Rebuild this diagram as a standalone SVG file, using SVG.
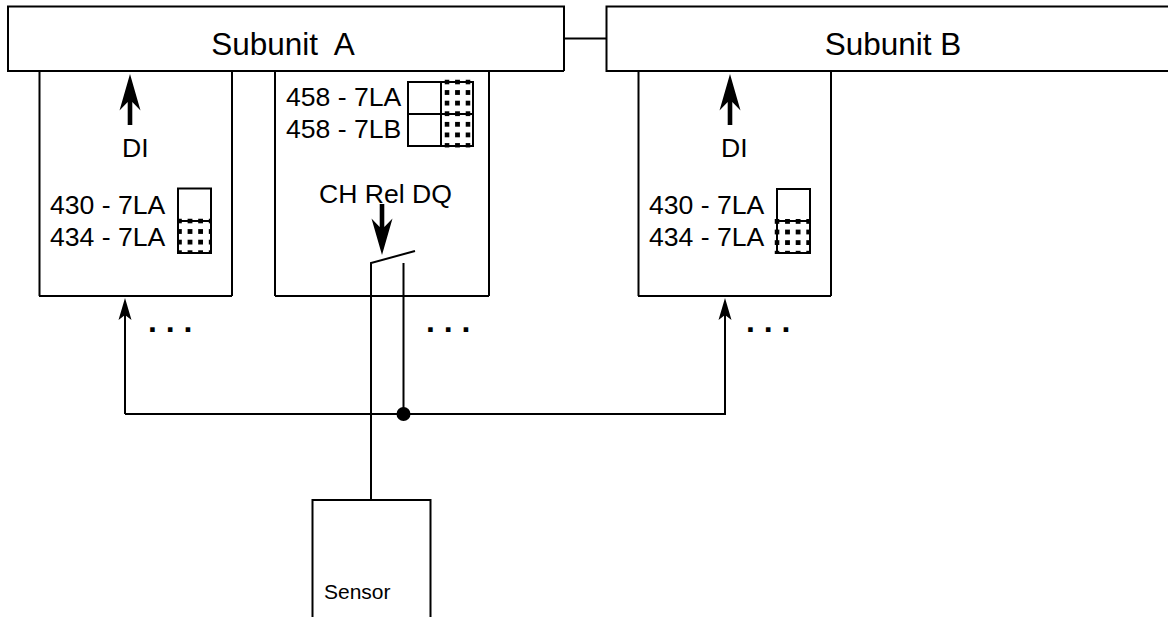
<svg xmlns="http://www.w3.org/2000/svg" width="1168" height="617" viewBox="0 0 1168 617">
<style>
text{font-family:"Liberation Sans",Arial,sans-serif;fill:#000}
.l{font-size:26.600px}.h{font-size:31.500px;text-anchor:middle;white-space:pre}
.e{font-size:32px;font-weight:bold;white-space:pre}
.s{fill:none;stroke:#000;stroke-width:2}
</style>
<defs>
<pattern id="dots" width="10.6" height="10.6" patternUnits="userSpaceOnUse" x="-2.500" y="-2.500">
<rect x="0" y="0" width="4.800" height="4.800" fill="#000"/>
</pattern>
<path id="bigUp" d="M0 0L10.500 36.500L2.300 28V51H-2.300V28L-10.500 36.500Z" fill="#000"/>
<path id="smallUp" d="M0 0L6.500 22L0 17L-6.500 22Z" fill="#000"/>
</defs>
<rect width="1168" height="617" fill="#fff"/>
<g id="subunit-a"><path class="s" d="M564 71V6.500H8V71H564"/><text class="h" x="283" y="55">Subunit  A</text></g>
<g id="subunit-b"><path class="s" d="M1168 71H606.500V6.500H1168"/><text class="h" x="893" y="55">Subunit B</text></g>
<g id="module-1"><path class="s" d="M39.500 71V296M232 71V296M39 296H232"/>
<text class="l" x="50" y="213.500">430 - 7LA</text><text class="l" x="50" y="245.500">434 - 7LA</text>
<rect class="s" x="178" y="188.500" width="33" height="32.500"/>
<rect transform="translate(179.500 221)" x="-2.500" y="-2.500" width="35" height="35" fill="url(#dots)"/>
<rect class="s" x="178" y="221" width="33" height="32"/>
<text class="l" x="122" y="156.500">DI</text></g>
<g id="module-2"><path class="s" d="M275 71V296M489 71V296M275 296H489"/>
<text class="l" x="286" y="105.500">458 - 7LA</text><text class="l" x="286" y="138">458 - 7LB</text>
<path class="s" d="M408 82H473V146H408ZM408 114H473M441 82V146"/>
<rect transform="translate(447 82)" x="-2.500" y="-2.500" width="26" height="68" fill="url(#dots)"/>
<text class="l" x="319" y="203">CH Rel DQ</text></g>
<g id="module-3"><path class="s" d="M638.500 71V296M831 71V296M638 296H831"/>
<text class="l" x="649" y="213.500">430 - 7LA</text><text class="l" x="649" y="245.500">434 - 7LA</text>
<rect class="s" x="777" y="189" width="33" height="32"/>
<rect transform="translate(777 221.500)" x="-2.500" y="-2.500" width="35" height="35" fill="url(#dots)"/>
<rect class="s" x="777" y="221" width="33" height="32"/>
<text class="l" x="721" y="156.500">DI</text></g>
<g id="sensor"><path class="s" d="M312.500 617V500H430.500V617"/><text x="324" y="599" font-size="21">Sensor</text></g>
<g id="connectors">
<path class="s" d="M564 38.500H606.500"/>
<path class="s" d="M125 414V310M125 414H725V310M371 500V263L415 251M403.500 263V414"/>
<circle cx="403.500" cy="414" r="7"/>
<use href="#bigUp" x="130" y="74"/><use href="#bigUp" x="730" y="74"/>
<use href="#bigUp" transform="translate(382 255) rotate(180)"/>
<use href="#smallUp" x="125" y="298"/><use href="#smallUp" x="725" y="298"/>
</g>
<g id="ellipses"><text class="e" x="148" y="332">. . .</text><text class="e" x="426" y="332">. . .</text><text class="e" x="746" y="332">. . .</text></g>
</svg>
